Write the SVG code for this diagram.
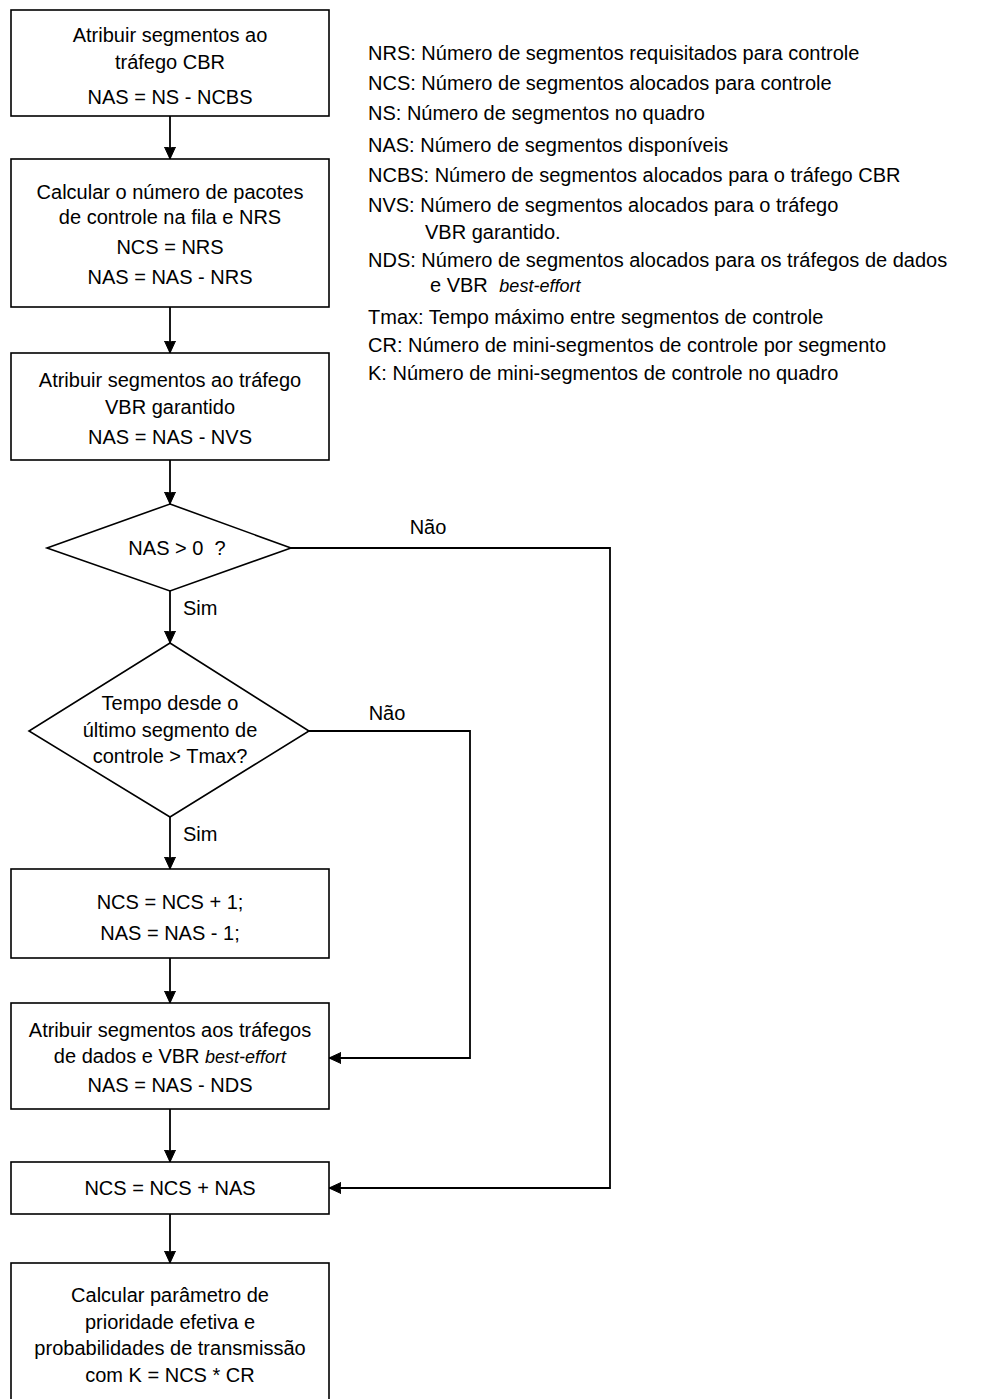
<svg xmlns="http://www.w3.org/2000/svg" width="987" height="1399" viewBox="0 0 987 1399">
<style>
text{font-family:"Liberation Sans",Arial,sans-serif;font-size:20px;fill:#000}
.c{text-anchor:middle}
.box{fill:#fff;stroke:#000;stroke-width:1.6}
.ln{fill:none;stroke:#000;stroke-width:1.8}
.it{font-style:italic;font-size:18px}
</style>
<defs>
<marker id="ah" viewBox="0 0 12 12" refX="12" refY="6" markerWidth="12" markerHeight="12" markerUnits="userSpaceOnUse" orient="auto">
<path d="M0,0.5 L12,6 L0,11.5 L1,6 Z" fill="#000" stroke="#000" stroke-width="1"/>
</marker>
</defs>
<rect width="987" height="1399" fill="#fff"/>

<g id="connectors">
<line class="ln" x1="170" y1="116" x2="170" y2="159" marker-end="url(#ah)"/>
<line class="ln" x1="170" y1="307" x2="170" y2="353" marker-end="url(#ah)"/>
<line class="ln" x1="170" y1="460" x2="170" y2="504" marker-end="url(#ah)"/>
<line class="ln" x1="170" y1="591" x2="170" y2="643" marker-end="url(#ah)"/>
<line class="ln" x1="170" y1="817" x2="170" y2="869" marker-end="url(#ah)"/>
<line class="ln" x1="170" y1="958" x2="170" y2="1003" marker-end="url(#ah)"/>
<line class="ln" x1="170" y1="1109" x2="170" y2="1162" marker-end="url(#ah)"/>
<line class="ln" x1="170" y1="1214" x2="170" y2="1263" marker-end="url(#ah)"/>
<polyline class="ln" points="291,548 610,548 610,1188 329,1188" marker-end="url(#ah)"/>
<polyline class="ln" points="309,731 470,731 470,1058 329,1058" marker-end="url(#ah)"/>
<text x="428" y="534" class="c">Não</text>
<text x="387" y="720" class="c">Não</text>
<text x="183" y="615">Sim</text>
<text x="183" y="841">Sim</text>
</g>

<g id="n1">
<rect class="box" x="11" y="10" width="318" height="106"/>
<text x="170" y="42" class="c">Atribuir segmentos ao</text>
<text x="170" y="69" class="c">tráfego CBR</text>
<text x="170" y="104" class="c">NAS = NS - NCBS</text>
</g>

<g id="n2">
<rect class="box" x="11" y="159" width="318" height="148"/>
<text x="170" y="199" class="c">Calcular o número de pacotes</text>
<text x="170" y="224" class="c">de controle na fila e NRS</text>
<text x="170" y="254" class="c">NCS = NRS</text>
<text x="170" y="284" class="c">NAS = NAS - NRS</text>
</g>

<g id="n3">
<rect class="box" x="11" y="353" width="318" height="107"/>
<text x="170" y="387" class="c">Atribuir segmentos ao tráfego</text>
<text x="170" y="414" class="c">VBR garantido</text>
<text x="170" y="444" class="c">NAS = NAS - NVS</text>
</g>

<g id="d1">
<polygon class="box" points="170,504 291,548 170,591 47,548"/>
<text x="177" y="555" class="c" xml:space="preserve">NAS &gt; 0  ?</text>
</g>

<g id="d2">
<polygon class="box" points="170,643 309,731 170,817 29,731"/>
<text x="170" y="710" class="c">Tempo desde o</text>
<text x="170" y="737" class="c">último segmento de</text>
<text x="170" y="763" class="c">controle &gt; Tmax?</text>
</g>

<g id="n4">
<rect class="box" x="11" y="869" width="318" height="89"/>
<text x="170" y="909" class="c">NCS = NCS + 1;</text>
<text x="170" y="940" class="c">NAS = NAS - 1;</text>
</g>

<g id="n5">
<rect class="box" x="11" y="1003" width="318" height="106"/>
<text x="170" y="1037" class="c">Atribuir segmentos aos tráfegos</text>
<text x="170" y="1063" class="c">de dados e VBR <tspan class="it">best-effort</tspan></text>
<text x="170" y="1092" class="c">NAS = NAS - NDS</text>
</g>

<g id="n6">
<rect class="box" x="11" y="1162" width="318" height="52"/>
<text x="170" y="1195" class="c">NCS = NCS + NAS</text>
</g>

<g id="n7">
<rect class="box" x="11" y="1263" width="318" height="150"/>
<text x="170" y="1302" class="c">Calcular parâmetro de</text>
<text x="170" y="1329" class="c">prioridade efetiva e</text>
<text x="170" y="1355" class="c">probabilidades de transmissão</text>
<text x="170" y="1382" class="c">com K = NCS * CR</text>
</g>

<g id="legend">
<text x="368" y="60">NRS: Número de segmentos requisitados para controle</text>
<text x="368" y="90">NCS: Número de segmentos alocados para controle</text>
<text x="368" y="120">NS: Número de segmentos no quadro</text>
<text x="368" y="152">NAS: Número de segmentos disponíveis</text>
<text x="368" y="182">NCBS: Número de segmentos alocados para o tráfego CBR</text>
<text x="368" y="212">NVS: Número de segmentos alocados para o tráfego</text>
<text x="425" y="239">VBR garantido.</text>
<text x="368" y="267">NDS: Número de segmentos alocados para os tráfegos de dados</text>
<text x="430" y="292">e VBR <tspan class="it" dx="6">best-effort</tspan></text>
<text x="368" y="324">Tmax: Tempo máximo entre segmentos de controle</text>
<text x="368" y="352">CR: Número de mini-segmentos de controle por segmento</text>
<text x="368" y="380">K: Número de mini-segmentos de controle no quadro</text>
</g>
</svg>
